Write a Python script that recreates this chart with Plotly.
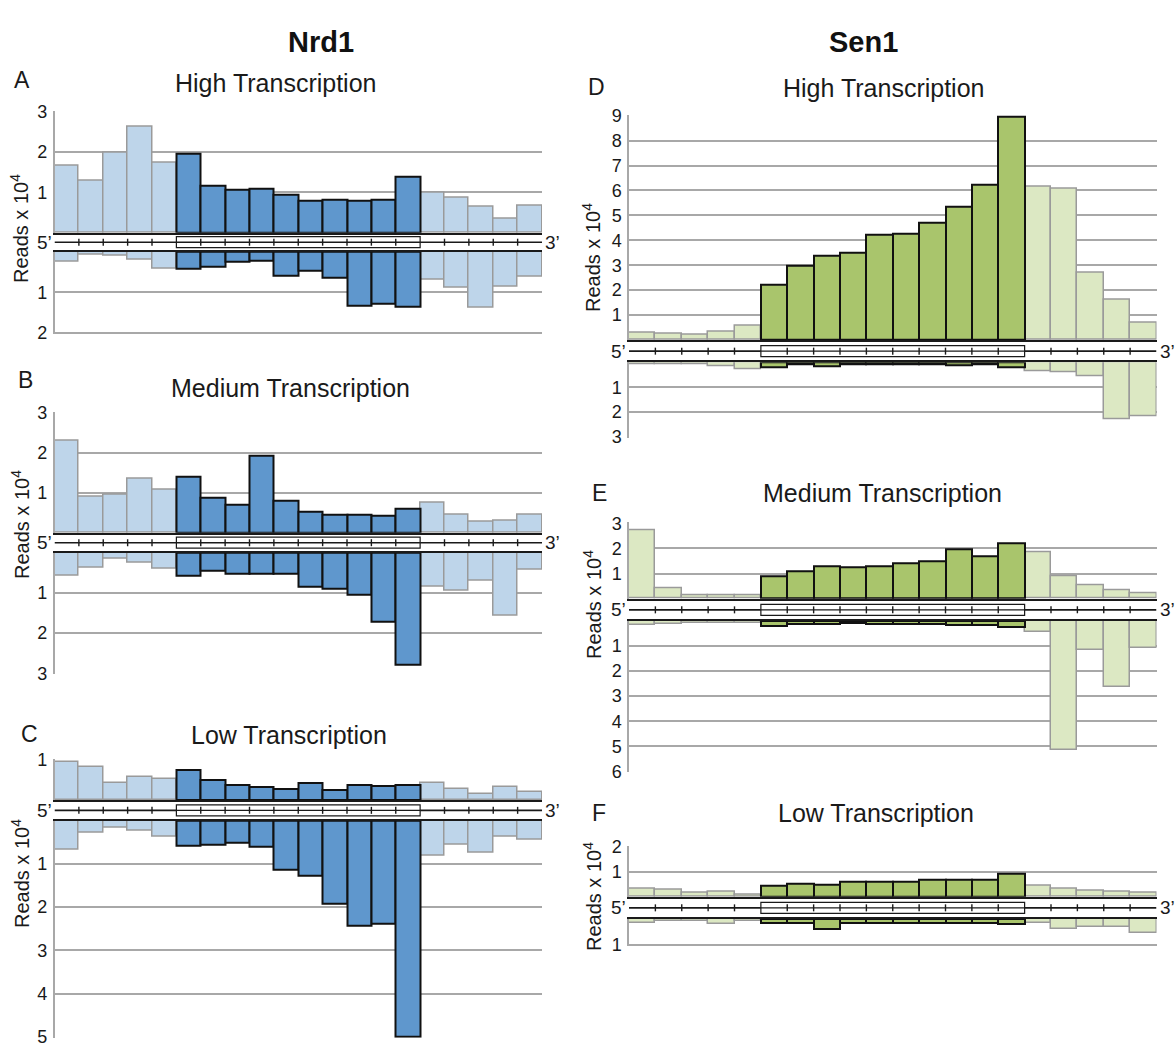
import plotly.graph_objects as go

# ---------------- data (Reads x 10^4) ----------------
bins = list(range(1, 21))              # 5 upstream, 10 gene-body, 5 downstream bins
gene_bins = list(range(6, 16))

nrd1_high_sense = [1.65, 1.29, 1.99, 2.63, 1.74, 1.96, 1.16, 1.07, 1.10, 0.95,
                   0.80, 0.83, 0.79, 0.81, 1.38, 0.99, 0.87, 0.64, 0.34, 0.67]
nrd1_high_anti = [0.24, 0.08, 0.10, 0.19, 0.41, 0.43, 0.38, 0.24, 0.23, 0.59,
                  0.46, 0.65, 1.33, 1.28, 1.37, 0.69, 0.88, 1.39, 0.87, 0.61]
nrd1_med_sense = [2.31, 0.90, 0.96, 1.35, 1.07, 1.39, 0.88, 0.70, 1.92, 0.80,
                  0.52, 0.46, 0.46, 0.43, 0.61, 0.76, 0.45, 0.28, 0.31, 0.44]
nrd1_med_anti = [0.57, 0.38, 0.16, 0.26, 0.40, 0.56, 0.44, 0.51, 0.51, 0.53,
                 0.85, 0.89, 1.04, 1.72, 2.79, 0.84, 0.95, 0.70, 1.56, 0.43]
nrd1_low_sense = [0.96, 0.83, 0.43, 0.57, 0.52, 0.76, 0.50, 0.38, 0.33, 0.28,
                  0.42, 0.26, 0.38, 0.36, 0.38, 0.43, 0.28, 0.16, 0.33, 0.20]
nrd1_low_anti = [0.67, 0.28, 0.17, 0.24, 0.36, 0.59, 0.55, 0.51, 0.61, 1.14,
                 1.27, 1.91, 2.44, 2.38, 5.00, 0.82, 0.56, 0.74, 0.37, 0.43]

sen1_high_sense = [0.29, 0.24, 0.20, 0.33, 0.57, 2.21, 2.98, 3.37, 3.50, 4.22,
                   4.28, 4.71, 5.35, 6.23, 8.98, 6.15, 6.08, 2.70, 1.60, 0.71]
sen1_high_anti = [0.07, 0.07, 0.09, 0.15, 0.28, 0.20, 0.07, 0.15, 0.07, 0.07,
                  0.07, 0.07, 0.11, 0.08, 0.19, 0.35, 0.41, 0.58, 2.29, 2.18]
sen1_med_sense = [2.74, 0.40, 0.13, 0.13, 0.15, 0.89, 1.10, 1.30, 1.25, 1.30,
                  1.42, 1.50, 1.98, 1.69, 2.20, 1.86, 0.88, 0.54, 0.32, 0.23]
sen1_med_anti = [0.17, 0.11, 0.07, 0.09, 0.07, 0.21, 0.13, 0.13, 0.09, 0.11,
                 0.13, 0.13, 0.16, 0.17, 0.24, 0.44, 5.15, 1.14, 2.65, 1.09]
sen1_low_sense = [0.32, 0.27, 0.15, 0.19, 0.09, 0.44, 0.52, 0.49, 0.59, 0.59,
                  0.60, 0.67, 0.67, 0.68, 0.92, 0.44, 0.32, 0.23, 0.19, 0.15]
sen1_low_anti = [0.17, 0.06, 0.08, 0.19, 0.08, 0.14, 0.14, 0.38, 0.14, 0.14,
                 0.17, 0.17, 0.14, 0.17, 0.19, 0.17, 0.40, 0.29, 0.29, 0.55]

titles = ["High Transcription", "Medium Transcription", "Low Transcription"]
letters = ["A", "B", "C", "D", "E", "F"]
top_max = [3, 3, 1, 9, 3, 2]
bot_max = [2, 3, 5, 3, 6, 1]

# ---------------- layout geometry (pixels) ----------------
W, H = 1176, 1043
def xp(px): return px / W
def yp(py): return 1 - py / H

PAD = 1.0  # px of headroom so the outermost gridline stays inside the range

cols = {"L": (54.5, 542.0), "R": (629.0, 1156.5)}
panels = [
    dict(col="L", top=(111.7, 232.7), bot=(251.7, 332.7), tx=275, ty=83, lx=22, ly=80, ry=229,
         sense=nrd1_high_sense, anti=nrd1_high_anti, light="#bed5ea", dark="#5f97cd", title=titles[0]),
    dict(col="L", top=(412.7, 532.7), bot=(552.7, 673.3), tx=290, ty=388, lx=25, ly=380, ry=525,
         sense=nrd1_med_sense, anti=nrd1_med_anti, light="#bed5ea", dark="#5f97cd", title=titles[1]),
    dict(col="L", top=(760.0, 800.0), bot=(820.7, 1036.7), tx=289, ty=735, lx=29, ly=734, ry=874,
         sense=nrd1_low_sense, anti=nrd1_low_anti, light="#bed5ea", dark="#5f97cd", title=titles[2]),
    dict(col="R", top=(115.7, 340.0), bot=(362.3, 437.0), tx=883, ty=88, lx=596, ly=87, ry=258,
         sense=sen1_high_sense, anti=sen1_high_anti, light="#dce8c3", dark="#a9c56c", title=titles[0]),
    dict(col="R", top=(523.3, 598.7), bot=(621.0, 771.3), tx=882, ty=493, lx=599, ly=493, ry=605,
         sense=sen1_med_sense, anti=sen1_med_anti, light="#dce8c3", dark="#a9c56c", title=titles[1]),
    dict(col="R", top=(846.7, 896.7), bot=(919.0, 945.0), tx=876, ty=813, lx=599, ly=813, ry=897,
         sense=sen1_low_sense, anti=sen1_low_anti, light="#dce8c3", dark="#a9c56c", title=titles[2]),
]

FONT = "Liberation Sans, Arial, sans-serif"
TXT = "#1a1a1a"
GRID = "#a8a8a8"

fig = go.Figure()
layout = {}
shapes = []
annotations = []

def split(vals):
    lx, ly, dx, dy = [], [], [], []
    for b, v in zip(bins, vals):
        if b in gene_bins:
            dx.append(b); dy.append(v)
        else:
            lx.append(b); ly.append(v)
    return lx, ly, dx, dy

ax = 0
for i, p in enumerate(panels):
    x0, x1 = cols[p["col"]]
    for part in ("top", "bot"):
        ax += 1
        suffix = "" if ax == 1 else str(ax)
        xa, ya = "x" + suffix, "y" + suffix
        vals = p["sense"] if part == "top" else p["anti"]
        lx, ly, dx, dy = split(vals)
        fig.add_trace(go.Bar(x=lx, y=ly, width=1, xaxis=xa, yaxis=ya,
                             marker=dict(color=p["light"], line=dict(color="#9a9a9a", width=1.5)),
                             showlegend=False, hoverinfo="x+y"))
        fig.add_trace(go.Bar(x=dx, y=dy, width=1, xaxis=xa, yaxis=ya,
                             marker=dict(color=p["dark"], line=dict(color="#111111", width=2)),
                             showlegend=False, hoverinfo="x+y"))
        if part == "top":
            ytop, ybase = p["top"]
            ymax = top_max[i]
            ppu = (ybase - ytop) / ymax
            dom = [yp(ybase), yp(ytop - PAD)]
            rng = [0, ymax + PAD / ppu]
            side = "bottom"
        else:
            ybase, ybot = p["bot"]
            ymax = bot_max[i]
            ppu = (ybot - ybase) / ymax
            dom = [yp(ybot + PAD), yp(ybase)]
            rng = [ymax + PAD / ppu, 0]
            side = "top"
        layout["xaxis" + suffix] = dict(
            domain=[xp(x0), xp(x1)], range=[0.5, 20.5], anchor=ya, side=side,
            showgrid=False, zeroline=False, showticklabels=False, ticks="", automargin=False,
            showline=True, linecolor="#1a1a1a", linewidth=2.2)
        layout["yaxis" + suffix] = dict(
            domain=dom, range=rng, anchor=xa, showgrid=True, gridcolor=GRID, gridwidth=1.5,
            zeroline=False, showline=True, linecolor=GRID, linewidth=1.5, ticks="",
            automargin=False, ticklabelstandoff=2, ticklabeloverflow="allow",
            tickvals=list(range(1, ymax + 1)), ticktext=[str(v) for v in range(1, ymax + 1)],
            tickfont=dict(family=FONT, size=18, color=TXT))

    # gene diagram between the two halves
    xa_top = "x" + ("" if ax - 1 == 1 else str(ax - 1))
    ymid = (p["top"][1] + p["bot"][0]) / 2
    shapes.append(dict(type="line", xref=xa_top, yref="paper", x0=0.5, x1=20.5,
                       y0=yp(ymid), y1=yp(ymid), line=dict(color="#1a1a1a", width=1.6)))
    shapes.append(dict(type="rect", xref=xa_top, yref="paper",
                       x0=gene_bins[0] - 0.5, x1=gene_bins[-1] + 0.5,
                       y0=yp(ymid + 5.5), y1=yp(ymid - 5.5),
                       fillcolor="white", line=dict(color="#1a1a1a", width=1.2)))
    shapes.append(dict(type="line", xref=xa_top, yref="paper", x0=gene_bins[0] - 0.5,
                       x1=gene_bins[-1] + 0.5, y0=yp(ymid), y1=yp(ymid),
                       line=dict(color="#1a1a1a", width=1.4)))
    for b in bins[:-1]:
        edge = b + 0.5
        if edge in (gene_bins[0] - 0.5, gene_bins[-1] + 0.5):
            continue
        shapes.append(dict(type="line", xref=xa_top, yref="paper", x0=edge, x1=edge,
                           y0=yp(ymid + 3.5), y1=yp(ymid - 3.5),
                           line=dict(color="#1a1a1a", width=1.4)))

    annotations.append(dict(text="5\u2019", x=xp(x0 - 1), y=yp(ymid), xref="paper", yref="paper",
                            xanchor="right", yanchor="middle", showarrow=False,
                            font=dict(family=FONT, size=19, color=TXT)))
    annotations.append(dict(text="3\u2019", x=xp(x1 + 1), y=yp(ymid), xref="paper", yref="paper",
                            xanchor="left", yanchor="middle", showarrow=False,
                            font=dict(family=FONT, size=19, color=TXT)))
    annotations.append(dict(text=p["title"], x=xp(p["tx"]), y=yp(p["ty"]), xref="paper", yref="paper",
                            xanchor="center", yanchor="middle", showarrow=False,
                            font=dict(family=FONT, size=25, color=TXT)))
    annotations.append(dict(text=letters[i], x=xp(p["lx"]), y=yp(p["ly"]), xref="paper", yref="paper",
                            xanchor="center", yanchor="middle", showarrow=False,
                            font=dict(family=FONT, size=23, color=TXT)))
    rx = 20 if p["col"] == "L" else 592
    annotations.append(dict(text="Reads x 10<sup>4</sup>", x=xp(rx), y=yp(p["ry"]), xref="paper",
                            yref="paper", xanchor="center", yanchor="middle", textangle=-90,
                            showarrow=False, font=dict(family=FONT, size=20, color=TXT)))

annotations.append(dict(text="<b>Nrd1</b>", x=xp(286), y=yp(24), xref="paper", yref="paper",
                        showarrow=False, font=dict(family=FONT, size=29, color="#111111")))
annotations.append(dict(text="<b>Sen1</b>", x=xp(900), y=yp(24), xref="paper", yref="paper",
                        showarrow=False, font=dict(family=FONT, size=29, color="#111111")))

fig.update_layout(width=W, height=H, margin=dict(l=0, r=0, t=0, b=0, autoexpand=False),
                  paper_bgcolor="white", plot_bgcolor="white", barmode="overlay", bargap=0,
                  shapes=shapes, annotations=annotations, **layout)

fig.write_html("out.html", config={"displayModeBar": False},
               post_script="document.body.style.margin='0';document.body.style.overflow='hidden';")
